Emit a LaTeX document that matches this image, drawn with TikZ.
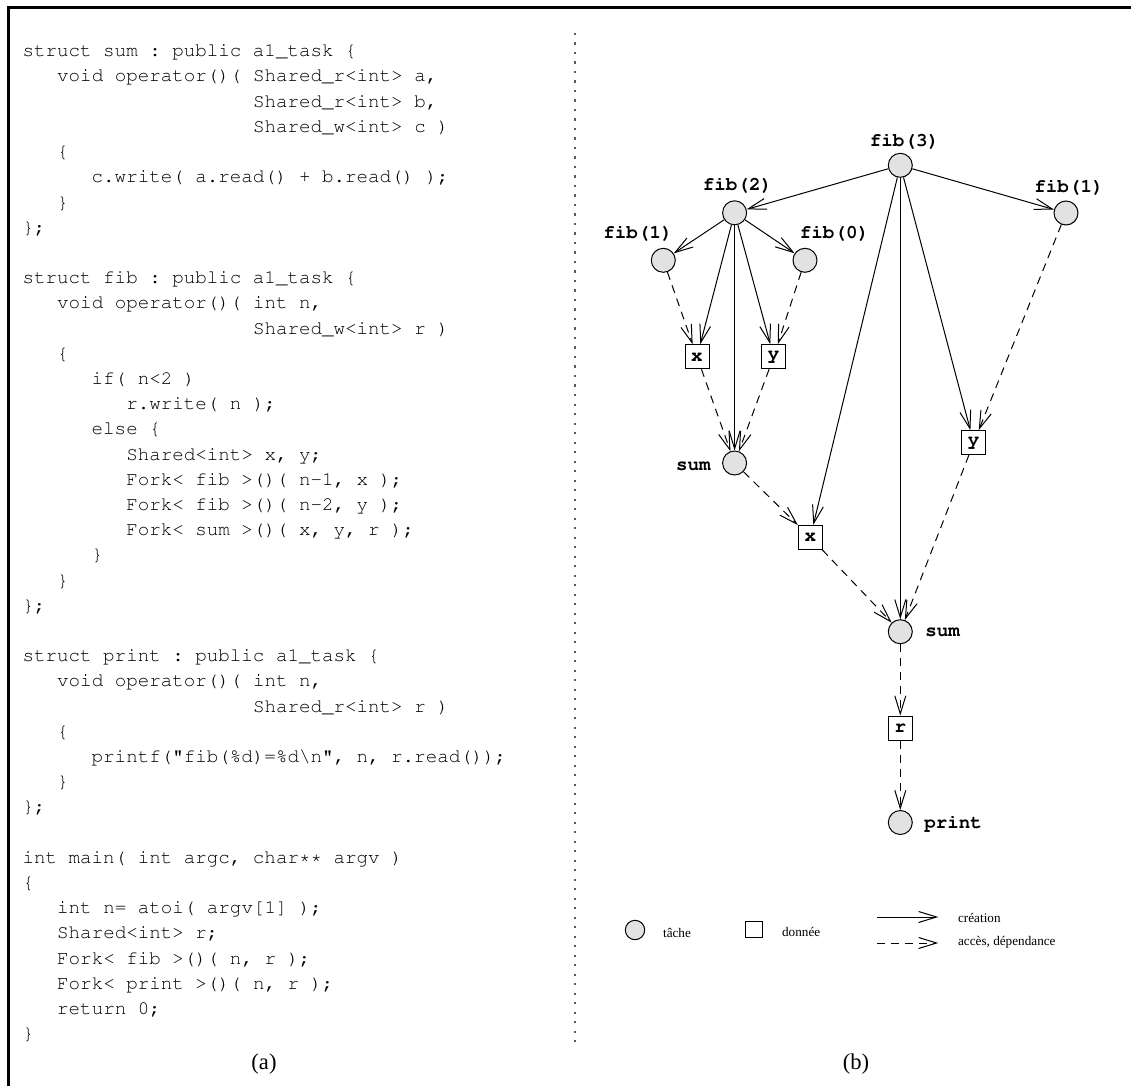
\documentclass[tikz,border=0pt]{standalone}
\usepackage[T1]{fontenc}
\usepackage{fontspec}
\setmainfont{Liberation Serif}
\setmonofont{Liberation Mono}
\usepackage{tikz}
\usetikzlibrary{arrows.meta}
\newcommand\courierfont{\fontencoding{T1}\fontfamily{pcr}\selectfont\frenchspacing}
\definecolor{taskgray}{RGB}{226,226,226}
\definecolor{dotgray}{RGB}{90,90,90}
\tikzset{
  font={\fontsize{6.6pt}{8pt}\selectfont}}
\tikzset{
  codeline/.style={anchor=base west, inner sep=0pt, font={\fontsize{9.6pt}{12pt}\courierfont}},
  tasknode/.style={circle, draw, line width=0.5pt, fill=taskgray, minimum size=12pt, inner sep=0pt},
  datanode/.style={rectangle, draw, line width=0.5pt, fill=white, minimum size=12pt, inner sep=0pt,
    font={\fontsize{9.6pt}{12pt}\courierfont\bfseries}},
  tasklbl/.style={inner sep=0pt, font={\fontsize{9.6pt}{12pt}\courierfont\bfseries}},
  create/.style={-{Straight Barb[length=9pt,width=5.5pt]}, line width=0.5pt},
  access/.style={create, dash pattern=on 4pt off 3pt},
  legtxt/.style={anchor=base west, inner sep=0pt},
  caption/.style={anchor=base, inner sep=0pt, font={\fontsize{11.3pt}{13pt}\selectfont}}}

\begin{document}
\begin{tikzpicture}[x=0.5pt, y=-0.5pt]
\useasboundingbox (0,0) rectangle (1131,1086);
% frame and separator
\draw [line width=1.7pt] (1131,7.5) -- (8.5,7.5) -- (8.5,1086);
\draw [dotgray, line width=1.2pt, dash pattern=on 1.2pt off 3.55pt] (575,33) -- (575,1045);
% (a) the program
\node [codeline] (l0) at (22.2,56.8) {struct sum : public a1\_task \{};
\node [codeline] (l1) at (56.8,82.0) {void operator()( Shared\_r<int> a,};
\node [codeline] (l2) at (252.6,107.2) {Shared\_r<int> b,};
\node [codeline] (l3) at (252.6,132.4) {Shared\_w<int> c )};
\node [codeline] (l4) at (56.8,157.6) {\{};
\node [codeline] (l5) at (91.3,182.8) {c.write( a.read() + b.read() );};
\node [codeline] (l6) at (56.8,208.0) {\}};
\node [codeline] (l7) at (22.2,233.2) {\};};
\node [codeline] (l9) at (22.2,283.6) {struct fib : public a1\_task \{};
\node [codeline] (l10) at (56.8,308.8) {void operator()( int n,};
\node [codeline] (l11) at (252.6,334.0) {Shared\_w<int> r )};
\node [codeline] (l12) at (56.8,359.2) {\{};
\node [codeline] (l13) at (91.3,384.4) {if( n<2 )};
\node [codeline] (l14) at (125.9,409.6) {r.write( n );};
\node [codeline] (l15) at (91.3,434.8) {else \{};
\node [codeline] (l16) at (125.9,460.0) {Shared<int> x, y;};
\node [codeline] (l17) at (125.9,485.2) {Fork< fib >()( n-1, x );};
\node [codeline] (l18) at (125.9,510.4) {Fork< fib >()( n-2, y );};
\node [codeline] (l19) at (125.9,535.6) {Fork< sum >()( x, y, r );};
\node [codeline] (l20) at (91.3,560.8) {\}};
\node [codeline] (l21) at (56.8,586.0) {\}};
\node [codeline] (l22) at (22.2,611.2) {\};};
\node [codeline] (l24) at (22.2,661.6) {struct print : public a1\_task \{};
\node [codeline] (l25) at (56.8,686.8) {void operator()( int n,};
\node [codeline] (l26) at (252.6,712.0) {Shared\_r<int> r )};
\node [codeline] (l27) at (56.8,737.2) {\{};
\node [codeline] (l28) at (91.3,762.4) {printf("fib(\%d)=\%d\textbackslash n", n, r.read());};
\node [codeline] (l29) at (56.8,787.6) {\}};
\node [codeline] (l30) at (22.2,812.8) {\};};
\node [codeline] (l32) at (22.2,863.2) {int main( int argc, char** argv )};
\node [codeline] (l33) at (22.2,888.4) {\{};
\node [codeline] (l34) at (56.8,913.6) {int n= atoi( argv[1] );};
\node [codeline] (l35) at (56.8,938.8) {Shared<int> r;};
\node [codeline] (l36) at (56.8,964.0) {Fork< fib >()( n, r );};
\node [codeline] (l37) at (56.8,989.2) {Fork< print >()( n, r );};
\node [codeline] (l38) at (56.8,1014.4) {return 0;};
\node [codeline] (l39) at (22.2,1039.6) {\}};
\node [caption] (capa) at (264,1069.5) {(a)};
% (b) the task graph
\node [tasknode] (fib3) at (900.3,165.3) {};
\node [tasknode] (fib2) at (734.6,212.8) {};
\node [tasknode] (fib1l) at (663.3,260.3) {};
\node [tasknode] (fib0) at (805,260.3) {};
\node [tasknode] (fib1r) at (1066,213) {};
\node [datanode] (xa) at (697,356.7) {x};
\node [datanode] (ya) at (773.7,356.7) {y};
\node [tasknode] (suma) at (734.6,463) {};
\node [datanode] (xb) at (810.3,537.3) {x};
\node [datanode] (yb) at (973.7,442.7) {y};
\node [tasknode] (sumb) at (900.3,631.7) {};
\node [datanode] (r) at (900.3,728) {r};
\node [tasknode] (print) at (900.3,822.5) {};
\node [tasklbl] (fib3lbl) at (904.5,141) {fib(3)};
\node [tasklbl] (fib2lbl) at (737.5,185.5) {fib(2)};
\node [tasklbl] (fib1llbl) at (638,233.5) {fib(1)};
\node [tasklbl] (fib0lbl) at (834.5,232.8) {fib(0)};
\node [tasklbl] (fib1rlbl) at (1069,187) {fib(1)};
\node [tasklbl, anchor=base east] (sumalbl) at (711,470) {sum};
\node [tasklbl, anchor=base west] (sumblbl) at (925,636.7) {sum};
\node [tasklbl, anchor=base west] (printlbl) at (924,828.3) {print};
\draw [create] (fib3) -- (fib2);
\draw [create] (fib3) -- (fib1r);
\draw [create] (fib3) -- (xb);
\draw [create] (fib3) -- (sumb);
\draw [create] (fib3) -- (yb);
\draw [create] (fib2) -- (fib1l);
\draw [create] (fib2) -- (fib0);
\draw [create] (fib2) -- (xa);
\draw [create] (fib2) -- (ya);
\draw [create] (fib2) -- (suma);
\draw [access] (fib1l) -- (xa);
\draw [access] (fib0) -- (ya);
\draw [access] (xa) -- (suma);
\draw [access] (ya) -- (suma);
\draw [access] (suma) -- (xb);
\draw [access] (xb) -- (sumb);
\draw [access] (fib1r) -- (yb);
\draw [access] (yb) -- (sumb);
\draw [access] (sumb) -- (r);
\draw [access] (r) -- (print);
% legend
\node [tasknode, minimum size=9.7pt] (legtask) at (635,930) {};
\node [legtxt] (legtasktxt) at (662.7,937) {tâche};
\node [datanode, minimum size=8.35pt] (legdata) at (754,929.6) {};
\node [legtxt] (legdatatxt) at (781.7,936.7) {donnée};
\coordinate (lgc1) at (877,917);
\coordinate (lgc2) at (938.3,917);
\coordinate (lga1) at (877,943);
\coordinate (lga2) at (938.3,943);
\draw [create] (lgc1) -- (lgc2);
\draw [access] (lga1) -- (lga2);
\node [legtxt] (legcreate) at (957.7,922.5) {création};
\node [legtxt] (legaccess) at (957.7,945) {accès, dépendance};
\node [caption] (capb) at (856,1069.5) {(b)};
\end{tikzpicture}
\end{document}
